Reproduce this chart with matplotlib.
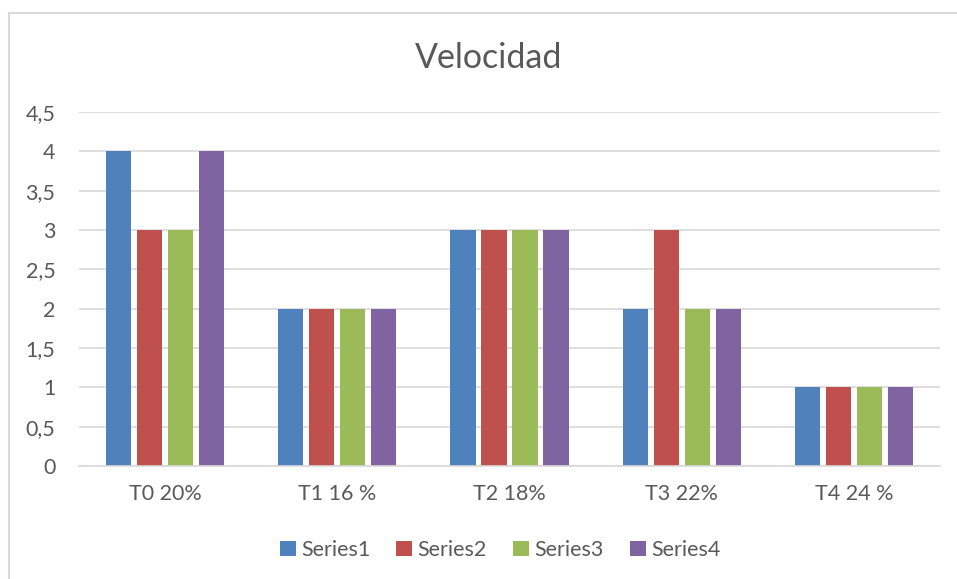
import matplotlib
matplotlib.use("Agg")
import matplotlib.pyplot as plt
import numpy as np
from matplotlib.lines import Line2D
from matplotlib.ticker import FuncFormatter, MultipleLocator

categories = ["T0 20%", "T1 16 %", "T2 18%", "T3 22%", "T4 24 %"]
series_names = ["Series1", "Series2", "Series3", "Series4"]
series1 = [4, 2, 3, 2, 1]
series2 = [3, 2, 3, 3, 1]
series3 = [3, 2, 3, 2, 1]
series4 = [4, 2, 3, 2, 1]
colors = ["#4F81BD", "#C0504D", "#9BBB59", "#8064A2"]

plt.rcParams['font.family'] = ['Lato', 'DejaVu Sans']
txt = "#595959"
grid = "#D9D9D9"

fig = plt.figure(figsize=(9.57, 5.79), dpi=100)
ax = fig.add_axes([79/957, 1-466/579, (940-79)/957, (466-112)/579])

x = np.arange(len(categories))
step = 0.18
width = 0.147
data = [series1, series2, series3, series4]
for i, (vals, name, c) in enumerate(zip(data, series_names, colors)):
    ax.bar(x + (i - 1.5) * step, vals, width, color=c, label=name, zorder=3)

ax.set_xlim(-0.5, len(categories) - 0.5)
ax.set_ylim(0, 4.5)
ax.yaxis.set_major_locator(MultipleLocator(0.5))
ax.yaxis.set_major_formatter(FuncFormatter(lambda v, p: ("%g" % v).replace(".", ",")))
ax.set_xticks(x)
ax.set_xticklabels(categories)
ax.grid(axis='y', color=grid, linewidth=1.2, zorder=0)
for s in ["top", "right", "left"]:
    ax.spines[s].set_visible(False)
ax.spines["bottom"].set_color(grid)
ax.spines["bottom"].set_linewidth(1.2)
ax.spines["bottom"].set_zorder(4)
ax.tick_params(axis='both', length=0, labelsize=15.5, colors=txt)
ax.tick_params(axis='y', pad=17)
ax.tick_params(axis='x', pad=13)

fig.text(489/957, 1-58/579, "Velocidad", ha='center', va='center', fontsize=24.5, color=txt)

leg = fig.legend(loc='center', bbox_to_anchor=(500/957, 1-550/579), ncol=4, frameon=False,
                 fontsize=15.5, handlelength=0.75, handleheight=0.75, handletextpad=0.25,
                 columnspacing=1.2, labelcolor=txt)

# chart border (left and top visible)
fig.add_artist(Line2D([8.5/957, 8.5/957], [0, 1-12.5/579], transform=fig.transFigure, color=grid, linewidth=1.5))
fig.add_artist(Line2D([8.5/957, 1], [1-12.5/579, 1-12.5/579], transform=fig.transFigure, color=grid, linewidth=1.5))

fig.savefig("out.png", dpi=100)
